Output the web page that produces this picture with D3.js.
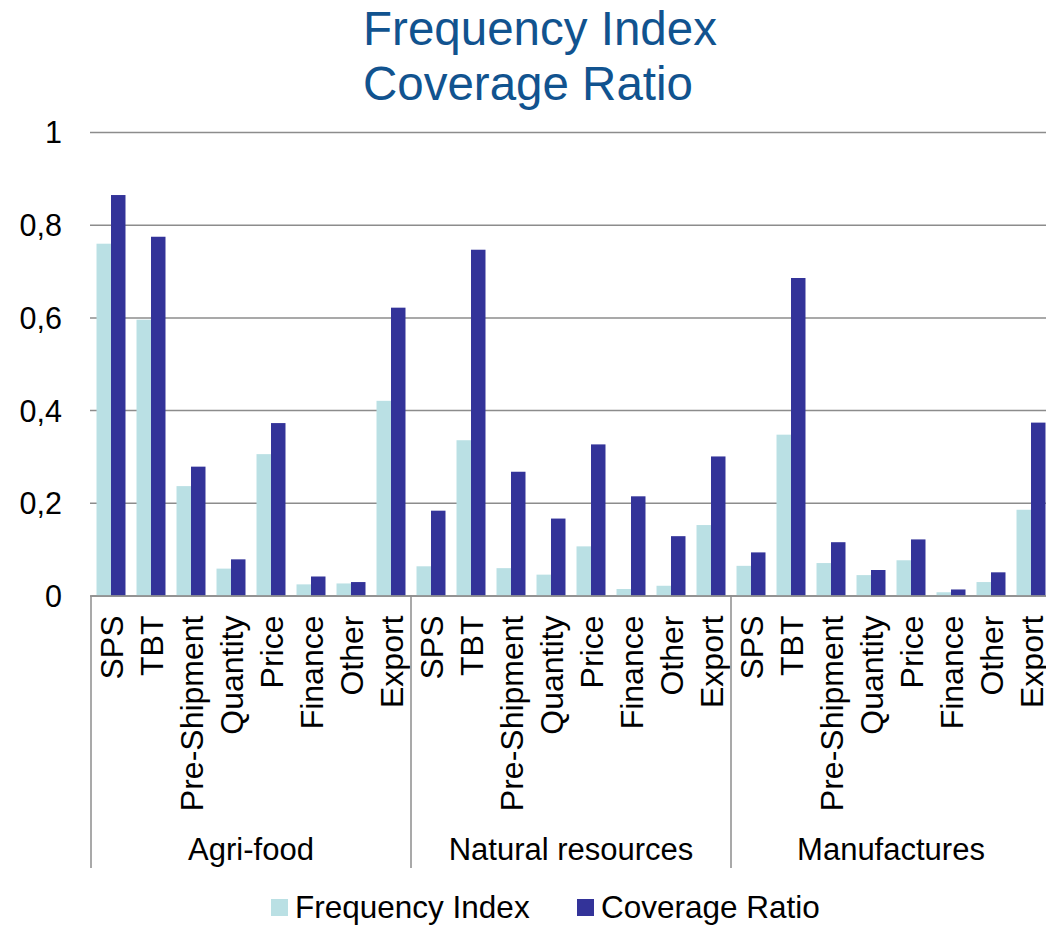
<!DOCTYPE html>
<html>
<head>
<meta charset="utf-8">
<script src="https://cdn.jsdelivr.net/npm/d3@7"></script>
<style>
  body { margin: 0; background: #fff; }
  svg { display: block; font-family: Arial, "Liberation Sans", sans-serif; }
</style>
</head>
<body>
<div id="chart"></div>
<script>
(function(){
  // Category levels
  const groups = ["Agri-food", "Natural resources", "Manufactures"];
  const measures = ["SPS", "TBT", "Pre-Shipment", "Quantity", "Price", "Finance", "Other", "Export"];
  // Series values (group by group, measure order as above)
  const frequencyIndex = [
    0.759, 0.595, 0.236, 0.058, 0.305, 0.024, 0.026, 0.420,
    0.063, 0.335, 0.059, 0.045, 0.106, 0.014, 0.021, 0.152,
    0.064, 0.347, 0.070, 0.044, 0.076, 0.007, 0.029, 0.185
  ];
  const coverageRatio = [
    0.864, 0.774, 0.278, 0.078, 0.372, 0.041, 0.029, 0.621,
    0.183, 0.746, 0.267, 0.166, 0.326, 0.214, 0.128, 0.300,
    0.093, 0.685, 0.115, 0.055, 0.121, 0.013, 0.050, 0.373
  ];
  const seriesNames = ["Frequency Index", "Coverage Ratio"];
  const yTicks = [0, 0.2, 0.4, 0.6, 0.8, 1];

  const width = 1046, height = 925;
  const colors = { "Frequency Index": "#bae0e4", "Coverage Ratio": "#333399" };
  const gridColor = "#8c8c8c";

  // plot area (runs a little past the right edge, as in the picture)
  const plot = { left: 91, right: 1051, top: 132, bottom: 595.5 };

  const rows = [];
  groups.forEach((g, gi) => measures.forEach((m, mi) => {
    const i = gi * measures.length + mi;
    rows.push({ i, group: g, measure: m, values: [frequencyIndex[i], coverageRatio[i]] });
  }));

  const x0 = d3.scaleBand().domain(rows.map(d => d.i)).range([plot.left, plot.right]).padding(0);
  const x1 = d3.scaleBand().domain(seriesNames).range([0, x0.bandwidth()]).paddingInner(0).paddingOuter(0.38);
  const y = d3.scaleLinear().domain([0, 1]).range([plot.bottom, plot.top]);

  const svg = d3.select("#chart").append("svg")
    .attr("width", width)
    .attr("height", height);

  // Title
  const title = svg.append("text")
    .attr("x", 540)
    .attr("text-anchor", "middle")
    .attr("fill", "#11538f")
    .style("font-size", "47.5px");
  title.append("tspan").attr("x", 540).attr("y", 45).text("Frequency Index");
  title.append("tspan").attr("x", 528).attr("y", 100).text("Coverage Ratio");

  // Y axis with gridlines
  const yAxis = svg.append("g")
    .attr("transform", `translate(${plot.left},0)`)
    .call(d3.axisLeft(y)
      .tickValues(yTicks)
      .tickSizeInner(-(width - plot.left))
      .tickSizeOuter(0)
      .tickPadding(29)
      .tickFormat(d => String(d).replace(".", ",")));
  yAxis.select(".domain").remove();
  yAxis.selectAll(".tick line")
    .attr("x1", -1)
    .attr("stroke", gridColor)
    .attr("stroke-width", 1.5);
  yAxis.selectAll(".tick text")
    .attr("fill", "#000")
    .attr("dy", "0.36em")
    .style("font-size", "30.5px");

  // Bars
  const cat = svg.append("g").selectAll("g")
    .data(rows)
    .join("g")
    .attr("transform", d => `translate(${x0(d.i)},0)`);
  cat.selectAll("rect")
    .data(d => d.values.map((v, k) => ({ key: seriesNames[k], value: v })))
    .join("rect")
    .attr("x", d => x1(d.key))
    .attr("y", d => y(d.value))
    .attr("width", x1.bandwidth())
    .attr("height", d => y(0) - y(d.value))
    .attr("fill", d => colors[d.key]);

  // Category axis
  const xAxis = svg.append("g")
    .attr("transform", `translate(0,${plot.bottom})`)
    .call(d3.axisBottom(x0)
      .tickSize(0)
      .tickFormat(i => rows[i].measure));
  xAxis.select(".domain")
    .attr("stroke", gridColor)
    .attr("stroke-width", 1.5);
  xAxis.selectAll(".tick text")
    .attr("transform", "rotate(-90)")
    .attr("text-anchor", "end")
    .attr("x", -20)
    .attr("y", 0)
    .attr("dy", "0.36em")
    .attr("fill", "#000")
    .style("font-size", "32px");

  // Group separators and labels
  const bounds = d3.range(groups.length + 1).map(g => g === groups.length ? plot.right : x0(g * measures.length));
  svg.append("g").selectAll("line")
    .data(bounds)
    .join("line")
    .attr("x1", d => d).attr("x2", d => d)
    .attr("y1", plot.bottom).attr("y2", 868)
    .attr("stroke", gridColor)
    .attr("stroke-width", 1.5);
  svg.append("g").selectAll("text")
    .data(groups)
    .join("text")
    .attr("x", (d, gi) => (bounds[gi] + bounds[gi + 1]) / 2)
    .attr("y", 860)
    .attr("text-anchor", "middle")
    .style("font-size", "31px")
    .text(d => d);

  // Legend
  const legendX = [271, 577];
  const legend = svg.append("g").selectAll("g")
    .data(seriesNames)
    .join("g")
    .attr("transform", (d, k) => `translate(${legendX[k]},0)`);
  legend.append("rect")
    .attr("x", 0).attr("y", 899)
    .attr("width", 17).attr("height", 17)
    .attr("fill", d => colors[d]);
  legend.append("text")
    .attr("x", 24).attr("y", 918)
    .style("font-size", "31.5px")
    .text(d => d);
})();
</script>
</body>
</html>
